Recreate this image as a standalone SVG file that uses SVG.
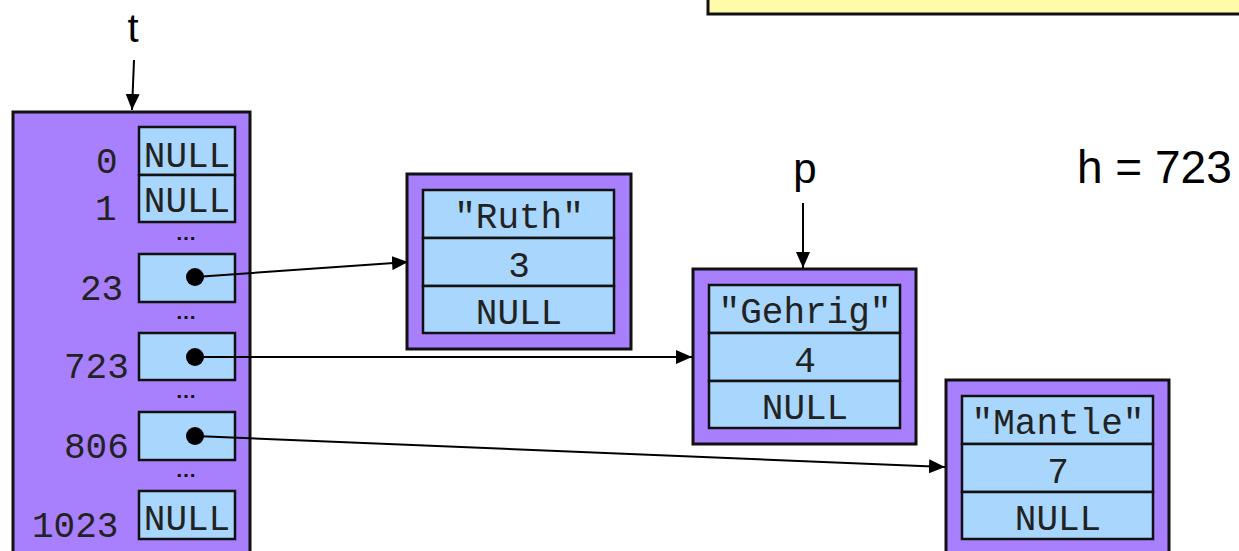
<svg xmlns="http://www.w3.org/2000/svg" width="1239" height="551" viewBox="0 0 1239 551">
<style>
.outer{fill:#A87FFD;stroke:#111;stroke-width:3}
.cell{fill:#A8D6FC;stroke:#111;stroke-width:2.5}
.mono{font-family:"Liberation Mono","Courier New",monospace;font-size:36px;fill:#222}
.mid{text-anchor:middle}
.sans{font-family:"Liberation Sans",Arial,Helvetica,sans-serif;fill:#000}
.dots{font-family:"Liberation Sans",Arial,sans-serif;font-size:21px;font-weight:bold;fill:#111;text-anchor:middle}
.conn{stroke:#000;stroke-width:2;fill:none;marker-end:url(#ah)}
</style>
<defs>
<marker id="ah" viewBox="0 0 10 10" refX="10" refY="5" markerWidth="16" markerHeight="14" markerUnits="userSpaceOnUse" orient="auto" preserveAspectRatio="none">
<path d="M0,0 L10,5 L0,10 z" fill="#000"/>
</marker>
</defs>
<rect width="1239" height="551" fill="#fff"/>

<g id="note">
<rect x="708" y="-20" width="545" height="34" fill="#FFFBA8" stroke="#111" stroke-width="3"/>
</g>

<g id="label-t"><text class="sans" x="133" y="42" font-size="40" text-anchor="middle">t</text></g>
<g id="label-p"><text class="sans" x="805" y="183" font-size="42" text-anchor="middle">p</text></g>
<g id="label-h"><text class="sans" x="1077" y="183" font-size="46">h = 723</text></g>

<g id="table">
<rect class="outer" x="13" y="112" width="237" height="460"/>
<rect class="cell" x="139" y="127" width="96" height="48"/>
<rect class="cell" x="139" y="175" width="96" height="47"/>
<rect class="cell" x="139" y="254" width="96" height="48"/>
<rect class="cell" x="139" y="333" width="96" height="47"/>
<rect class="cell" x="139" y="412" width="96" height="48"/>
<rect class="cell" x="139" y="491" width="96" height="48"/>
<text class="mono mid" x="187" y="167">NULL</text>
<text class="mono mid" x="187" y="212">NULL</text>
<text class="mono mid" x="187" y="530">NULL</text>
<text class="mono" x="96" y="173">0</text>
<text class="mono" x="95" y="220">1</text>
<text class="mono" x="80" y="300">23</text>
<text class="mono" x="64" y="378">723</text>
<text class="mono" x="64" y="458">806</text>
<text class="mono" x="32" y="537">1023</text>
<text class="dots" x="186" y="240">…</text>
<text class="dots" x="186" y="319">…</text>
<text class="dots" x="186" y="398">…</text>
<text class="dots" x="186" y="477">…</text>
<circle cx="195" cy="277" r="9" fill="#000"/>
<circle cx="195" cy="357" r="9" fill="#000"/>
<circle cx="195" cy="436" r="9" fill="#000"/>
</g>

<g id="node-ruth">
<rect class="outer" x="407" y="174" width="224" height="175"/>
<rect class="cell" x="423" y="190" width="191" height="48"/>
<rect class="cell" x="423" y="238" width="191" height="48"/>
<rect class="cell" x="423" y="286" width="191" height="47"/>
<text class="mono mid" x="519" y="228">"Ruth"</text>
<text class="mono mid" x="519" y="277">3</text>
<text class="mono mid" x="519" y="324">NULL</text>
</g>

<g id="node-gehrig">
<rect class="outer" x="693" y="269" width="223" height="175"/>
<rect class="cell" x="709" y="285" width="191" height="48"/>
<rect class="cell" x="709" y="333" width="191" height="48"/>
<rect class="cell" x="709" y="381" width="191" height="47"/>
<text class="mono mid" x="805" y="323">"Gehrig"</text>
<text class="mono mid" x="805" y="372">4</text>
<text class="mono mid" x="805" y="419">NULL</text>
</g>

<g id="node-mantle">
<rect class="outer" x="946" y="380" width="223" height="190"/>
<rect class="cell" x="962" y="396" width="191" height="48"/>
<rect class="cell" x="962" y="444" width="191" height="48"/>
<rect class="cell" x="962" y="492" width="191" height="47"/>
<text class="mono mid" x="1058" y="434">"Mantle"</text>
<text class="mono mid" x="1058" y="483">7</text>
<text class="mono mid" x="1058" y="530">NULL</text>
</g>

<g id="connectors">
<path class="conn" d="M134,60 L132,110"/>
<path class="conn" d="M803,203 L803,268"/>
<path class="conn" d="M195,277 L408,262"/>
<path class="conn" d="M195,357 L692,357"/>
<path class="conn" d="M195,436 L945,467"/>
</g>
</svg>
